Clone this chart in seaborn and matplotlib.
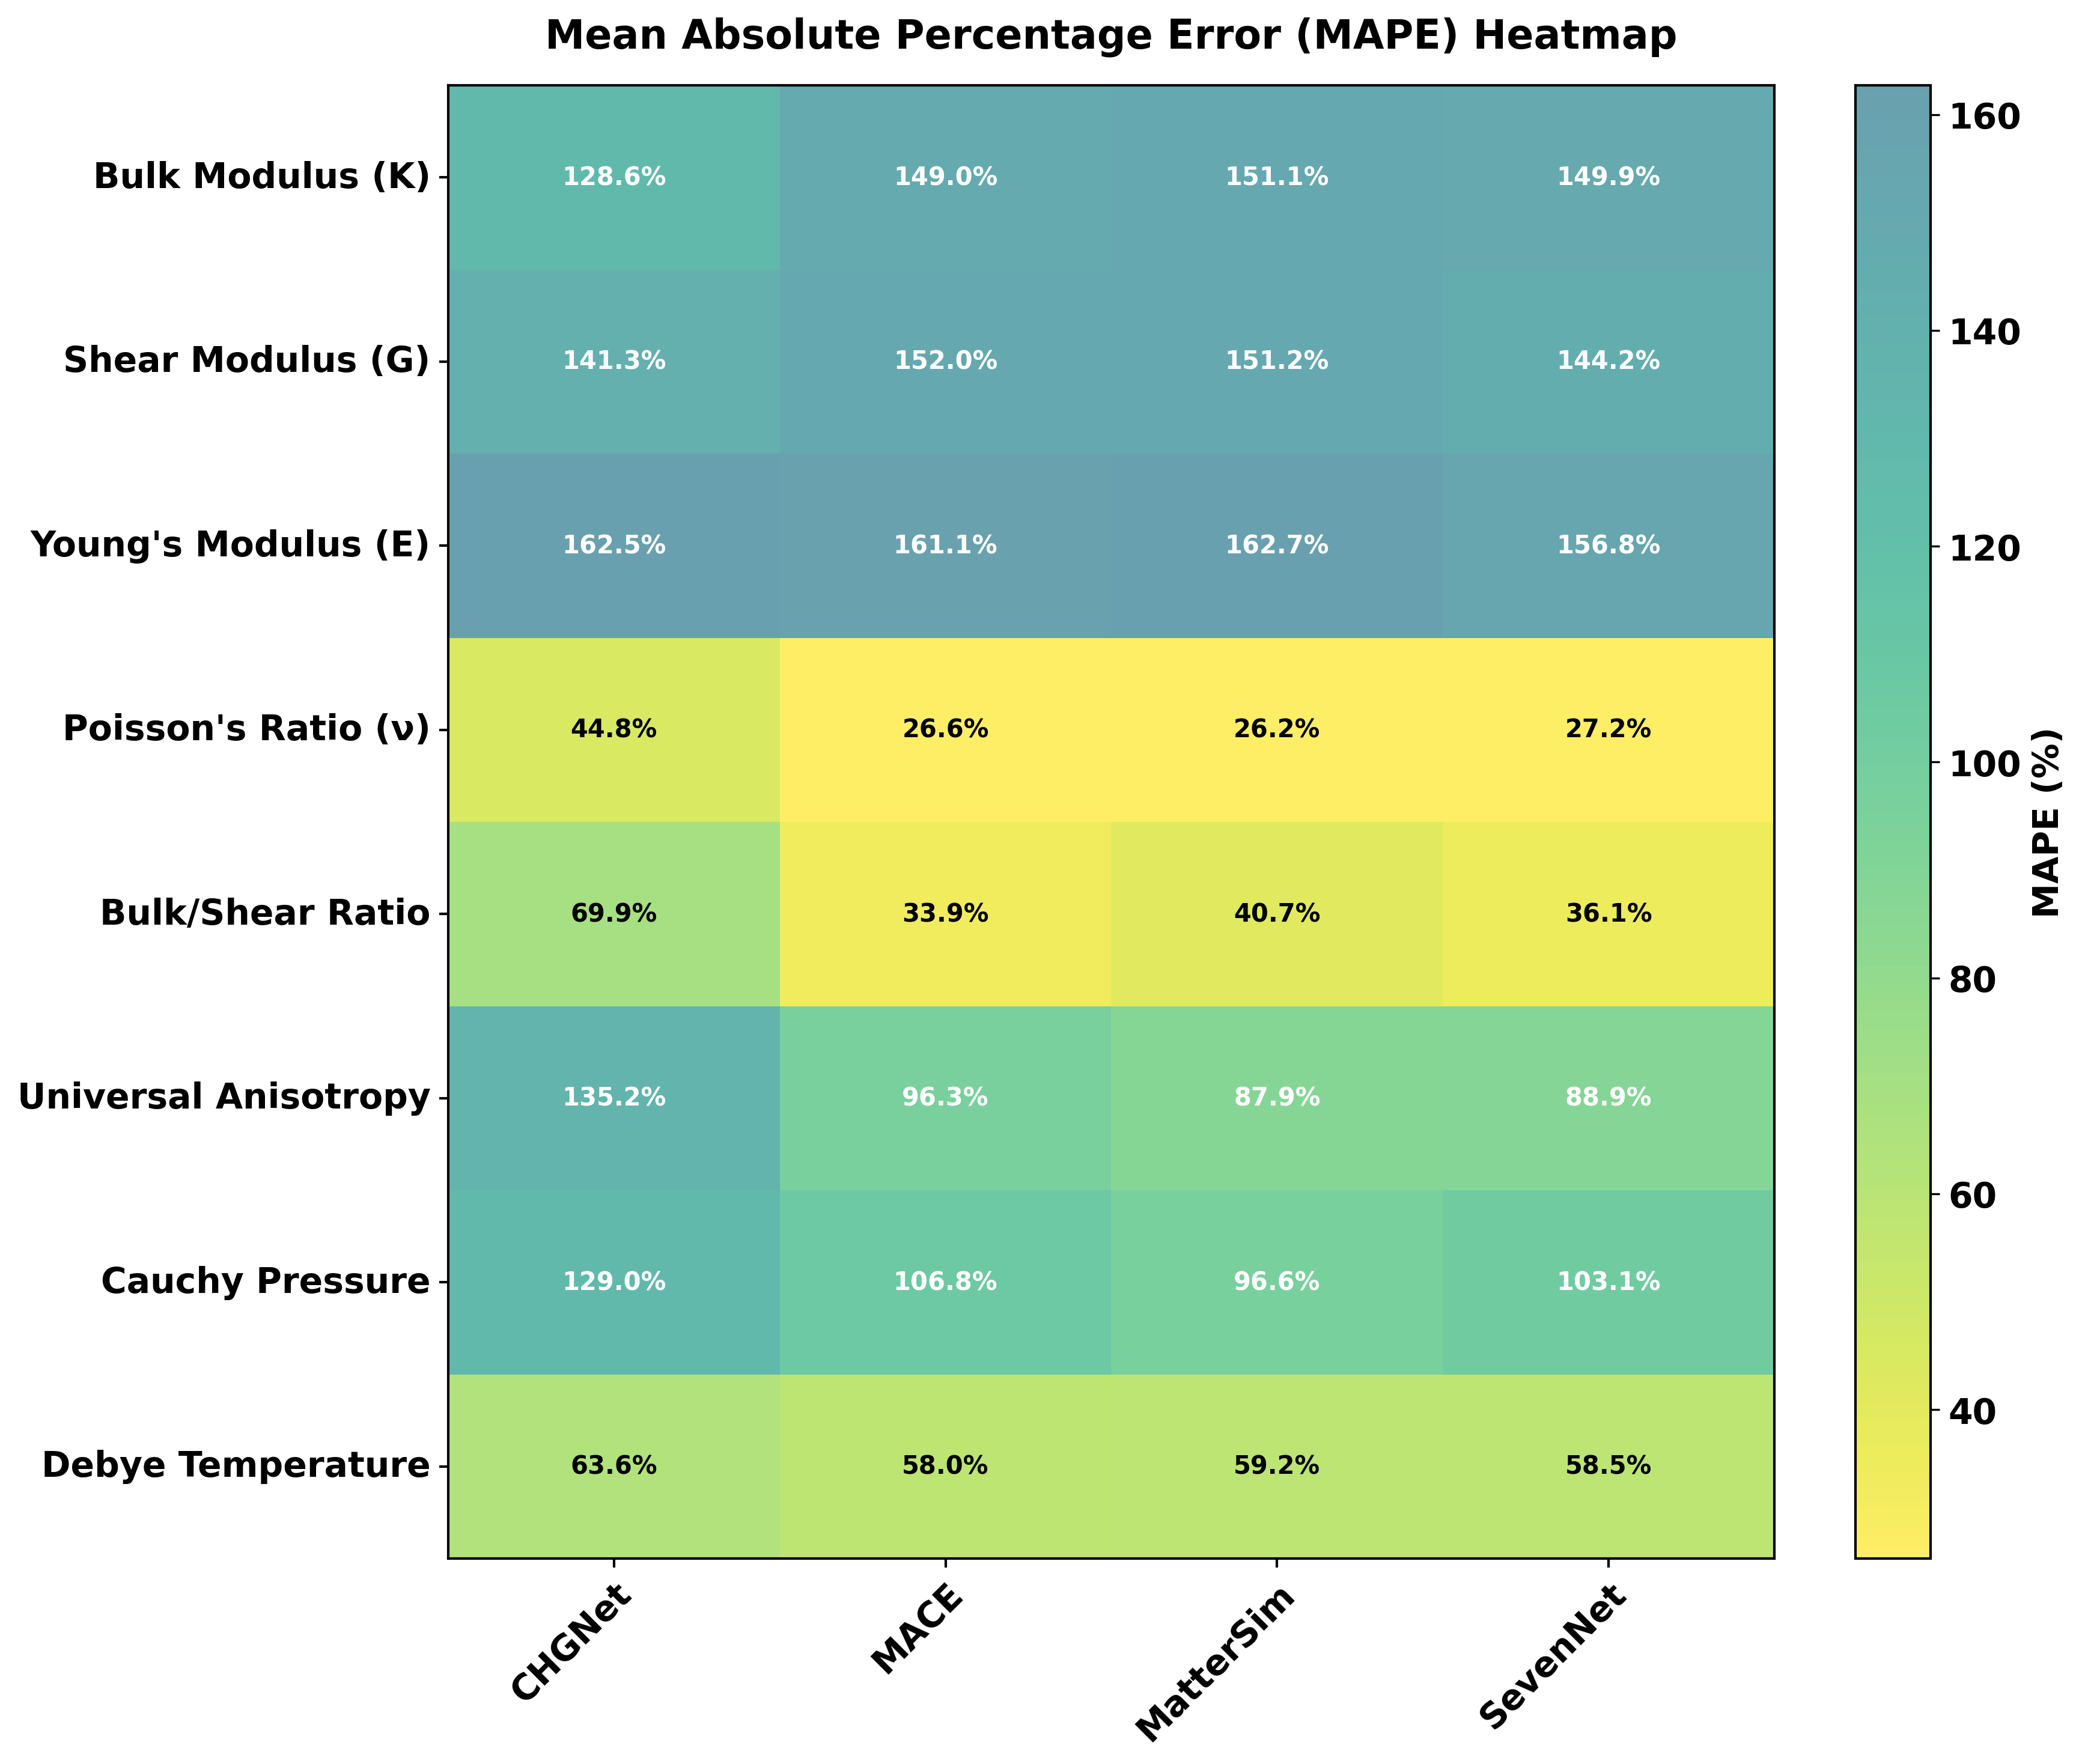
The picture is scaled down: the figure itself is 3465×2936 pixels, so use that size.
import numpy as np
import pandas as pd
import matplotlib
matplotlib.use('Agg')
import matplotlib.pyplot as plt
from matplotlib.colors import ListedColormap
import seaborn as sns

# Veriler
models = ['CHGNet', 'MACE', 'MatterSim', 'SevenNet']
properties = ['Bulk Modulus (K)', 'Shear Modulus (G)', "Young's Modulus (E)",
              "Poisson's Ratio (ν)", 'Bulk/Shear Ratio', 'Universal Anisotropy',
              'Cauchy Pressure', 'Debye Temperature']
chgnet = [128.6, 141.3, 162.5, 44.8, 69.9, 135.2, 129.0, 63.6]
mace = [149.0, 152.0, 161.1, 26.6, 33.9, 96.3, 106.8, 58.0]
mattersim = [151.1, 151.2, 162.7, 26.2, 40.7, 87.9, 96.6, 59.2]
sevennet = [149.9, 144.2, 156.8, 27.2, 36.1, 88.9, 103.1, 58.5]

df = pd.DataFrame({'CHGNet': chgnet, 'MACE': mace,
                   'MatterSim': mattersim, 'SevenNet': sevennet},
                  index=properties)

# viridis'in acik kismi, ters cevrilmis
cmap = ListedColormap(plt.cm.viridis(np.linspace(0.4, 1.0, 256))[::-1])

fig = plt.figure(figsize=(11.5533, 9.79), dpi=300)
ax = fig.add_axes([0.2152, 0.1164, 0.6368, 0.8349])
cax = fig.add_axes([0.891, 0.1164, 0.0361, 0.8349])

sns.heatmap(df, ax=ax, cbar_ax=cax, cmap=cmap, alpha=0.7,
            vmin=df.values.min(), vmax=df.values.max(),
            annot=False, linewidths=0)

# hucre etiketleri
for i in range(len(properties)):
    for j in range(len(models)):
        val = df.iloc[i, j]
        color = 'white' if val > 80 else 'black'
        ax.text(j + 0.5, i + 0.5, f'{val:.1f}%', ha='center', va='center',
                color=color, fontsize=10, fontweight='bold')

for s in ax.spines.values():
    s.set_visible(True)
    s.set_linewidth(1.0)

ax.set_xlabel('')
ax.set_ylabel('')
ax.set_xticks(np.arange(len(models)) + 0.5)
ax.set_xticklabels(models, rotation=45, ha='right', rotation_mode='anchor',
                   fontsize=14, fontweight='bold')
ax.set_yticks(np.arange(len(properties)) + 0.5)
ax.set_yticklabels(properties, rotation=0, fontsize=14, fontweight='bold')
ax.tick_params(axis='both', length=3.5, width=1)
ax.set_title('Mean Absolute Percentage Error (MAPE) Heatmap',
             fontsize=16, fontweight='bold', pad=15)

cbar = ax.collections[0].colorbar
cbar.set_label('MAPE (%)', fontsize=14, fontweight='bold')
cbar.set_ticks([40, 60, 80, 100, 120, 140, 160])
for t in cax.get_yticklabels():
    t.set_fontsize(14)
    t.set_fontweight('bold')
cbar.outline.set_visible(True)
cbar.outline.set_linewidth(1.0)

plt.savefig('out.png', dpi=300)
